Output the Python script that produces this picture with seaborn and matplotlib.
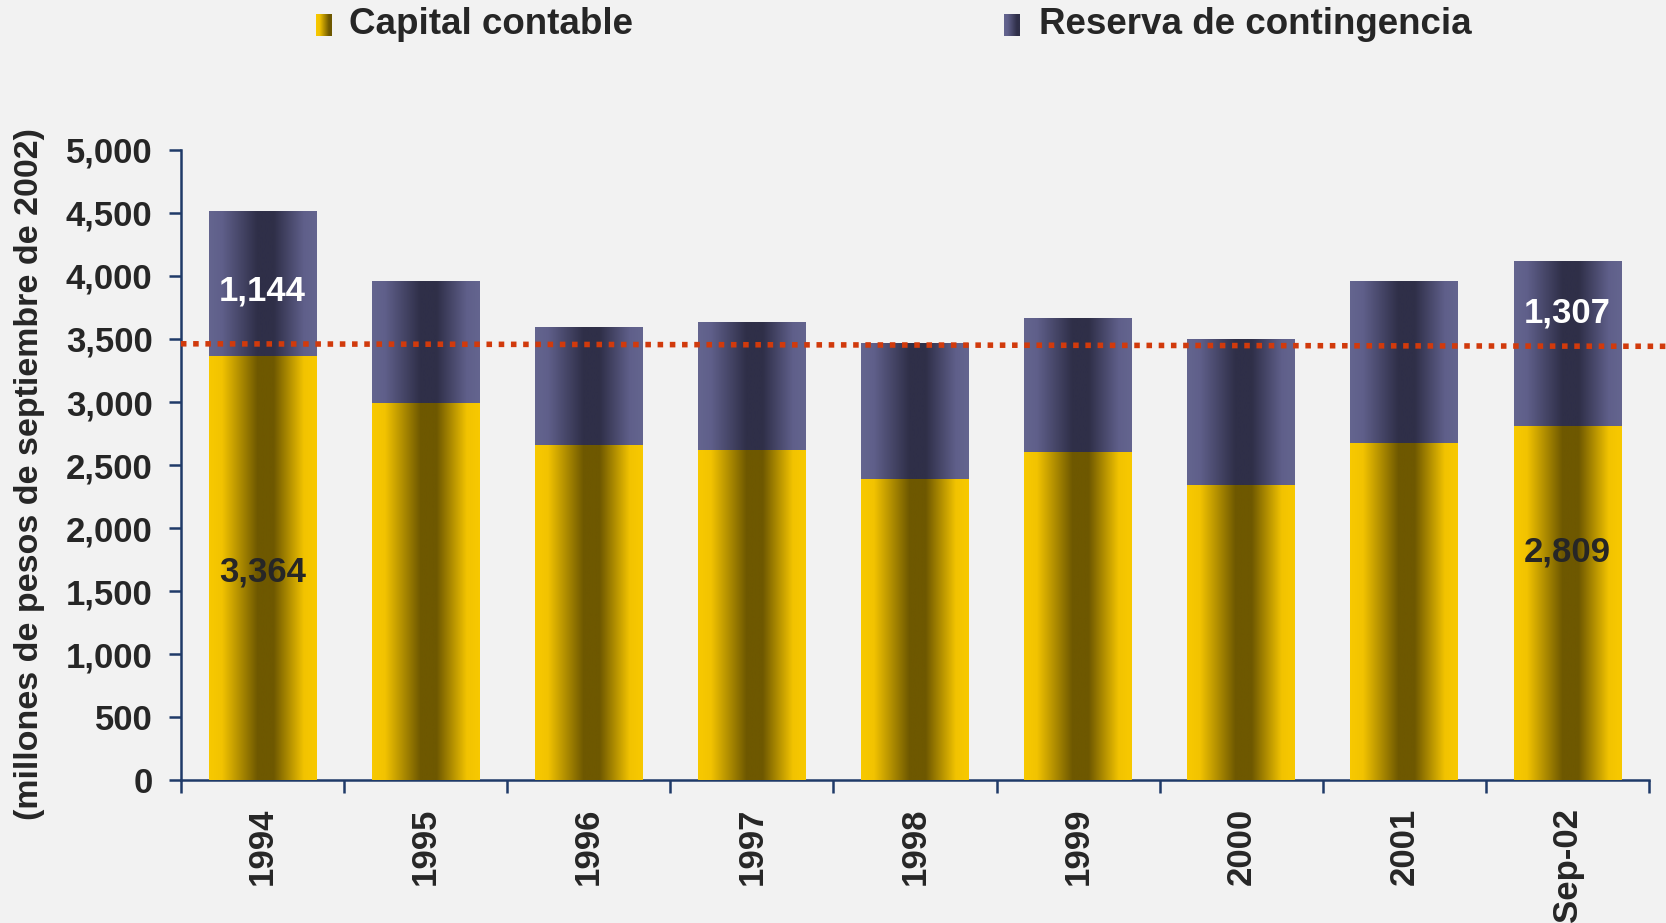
import numpy as np
import pandas as pd
import seaborn as sns
import matplotlib.pyplot as plt
from matplotlib.colors import LinearSegmentedColormap

# datos (millones de pesos de septiembre de 2002)
years = ["1994", "1995", "1996", "1997", "1998", "1999", "2000", "2001", "Sep-02"]
capital = [3364, 2986, 2657, 2615, 2387, 2598, 2337, 2674, 2809]
reserva = [1144, 970, 936, 1012, 1080, 1063, 1155, 1282, 1307]
ref_line = [3462, 3442]  # linea punteada (inicio, fin)

df = pd.DataFrame({"year": years, "capital": capital, "reserva": reserva})
df["total"] = df["capital"] + df["reserva"]

bg = "#f2f2f2"
txt = "#262626"
axis_col = "#1f3a68"

sns.set_style("white")
plt.rcParams["font.family"] = ["Liberation Sans", "DejaVu Sans"]
plt.rcParams["font.weight"] = "bold"

yellow_cmap = LinearSegmentedColormap.from_list(
    "yel", [(0, "#f8c900"), (0.12, "#f2c300"), (0.45, "#6e5800"),
            (0.6, "#6e5800"), (0.88, "#f2c300"), (1, "#f8c900")])
purple_cmap = LinearSegmentedColormap.from_list(
    "pur", [(0, "#64658f"), (0.12, "#5f5f8a"), (0.45, "#2f2f48"),
            (0.6, "#2f2f48"), (0.88, "#5f5f8a"), (1, "#64658f")])

fig = plt.figure(figsize=(16.66, 9.23), dpi=100, facecolor=bg)
ax = fig.add_axes([0.1086, 0.1549, 0.8812, 0.6826])
ax.set_facecolor(bg)

sns.barplot(data=df, x="year", y="total", color="#4a4a70", width=0.66, ax=ax)
sns.barplot(data=df, x="year", y="capital", color="#c9a000", width=0.66, ax=ax)

grad = np.linspace(0, 1, 256).reshape(1, -1)
n = len(years)
for i, p in enumerate(list(ax.patches)):
    x0, y0 = p.get_x(), p.get_y()
    w, h = p.get_width(), p.get_height()
    cmap = purple_cmap if i < n else yellow_cmap
    ax.imshow(grad, cmap=cmap, extent=[x0, x0 + w, y0, y0 + h],
              aspect="auto", zorder=2 if i < n else 3, interpolation="bilinear")
    p.set_visible(False)

ax.set_xlim(-0.5, n - 0.5)
ax.set_ylim(0, 5000)

# linea de referencia
ax.plot([-0.5, n - 0.38], ref_line, color="#d13a0c", lw=4,
        linestyle=(0, (1, 1.2)), dash_capstyle="butt", zorder=5, clip_on=False)

# etiquetas de valores
lab_fs = 25
ax.text(0, 1650, f"{capital[0]:,}", ha="center", va="center",
        fontsize=lab_fs, color=txt, fontweight="bold", zorder=6)
ax.text(0, 3880, f"{reserva[0]:,}", ha="center", va="center",
        fontsize=lab_fs, color="white", fontweight="bold", zorder=6)
ax.text(n - 1, 1810, f"{capital[-1]:,}", ha="center", va="center",
        fontsize=lab_fs, color=txt, fontweight="bold", zorder=6)
ax.text(n - 1, 3710, f"{reserva[-1]:,}", ha="center", va="center",
        fontsize=lab_fs, color="white", fontweight="bold", zorder=6)

# ejes
sns.despine(ax=ax, top=True, right=True)
for s in ["left", "bottom"]:
    ax.spines[s].set_color(axis_col)
    ax.spines[s].set_linewidth(1.8)

ax.set_yticks(range(0, 5001, 500))
ax.set_yticklabels([f"{v:,}" for v in range(0, 5001, 500)], fontsize=25,
                   color=txt, fontweight="bold")
ax.tick_params(axis="y", length=8.5, width=1.8, color=axis_col, direction="out",
               left=True, pad=12)

ax.set_xticks(range(n))
ax.set_xticklabels(years, rotation=90, fontsize=25, color=txt,
                   fontweight="bold", va="top", ha="center")
ax.set_xticks(np.arange(-0.5, n, 1), minor=True)
ax.tick_params(axis="x", which="major", length=0, pad=20)
ax.tick_params(axis="x", which="minor", length=9, width=1.8, color=axis_col,
               direction="out", bottom=True)
ax.set_xlabel("")
ax.set_ylabel("")

fig.text(0.018, 0.4865, "(millones de pesos de septiembre de 2002)",
         rotation=90, ha="center", va="center", fontsize=24.5, color=txt,
         fontweight="bold")

# leyenda
for xpos, cmap, label, tx in [(316, yellow_cmap, "Capital contable", 349),
                              (1004, purple_cmap, "Reserva de contingencia", 1039)]:
    lax = fig.add_axes([xpos / 1666, 1 - 36 / 923, 16 / 1666, 22 / 923])
    lax.imshow(np.linspace(0, 0.55, 64).reshape(1, -1), cmap=cmap, vmin=0,
               vmax=1, aspect="auto")
    lax.axis("off")
    fig.text(tx / 1666, 1 - 25 / 923, label, ha="left", va="center",
             fontsize=26.5, color=txt, fontweight="bold")

fig.savefig("out.png", dpi=100, facecolor=bg)
